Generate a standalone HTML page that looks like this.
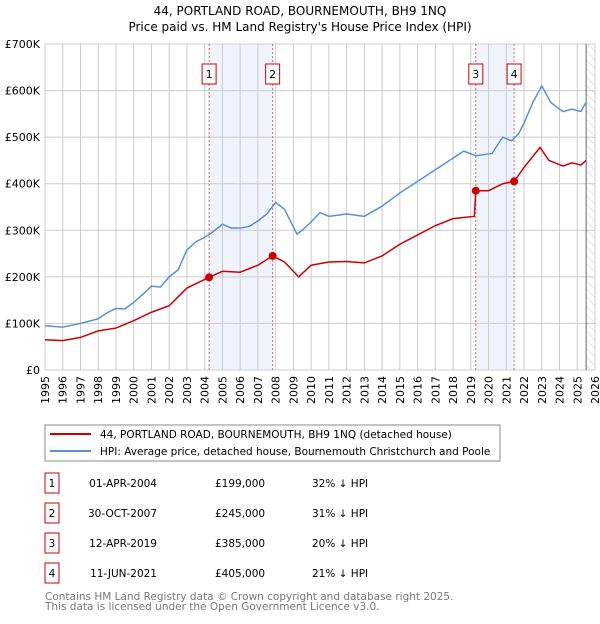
<!DOCTYPE html>
<html><head><meta charset="utf-8"><style>
body{margin:0;background:#fff;font-family:"DejaVu Sans","Liberation Sans",sans-serif}
svg text{font-family:"DejaVu Sans","Liberation Sans",sans-serif}
</style></head><body>
<svg id="c" width="600" height="620" xmlns="http://www.w3.org/2000/svg">
<defs><pattern id="h" width="6" height="6" patternUnits="userSpaceOnUse" patternTransform="rotate(-45)"><line x1="0" y1="0" x2="0" y2="6" stroke="#ccc" stroke-width="1"/></pattern></defs>
<text x="300" y="15" text-anchor="middle" font-size="12">44, PORTLAND ROAD, BOURNEMOUTH, BH9 1NQ</text>
<text x="300" y="31" text-anchor="middle" font-size="12">Price paid vs. HM Land Registry's House Price Index (HPI)</text>
<g id="plot"></g>
<rect x="45" y="425" width="455" height="36" fill="none" stroke="#888"/>
<line x1="50" y1="434" x2="91" y2="434" stroke="#cc0000" stroke-width="2"/>
<text x="100" y="438" font-size="10.5">44, PORTLAND ROAD, BOURNEMOUTH, BH9 1NQ (detached house)</text>
<line x1="50" y1="451" x2="91" y2="451" stroke="#5b8fd4" stroke-width="2"/>
<text x="100" y="455" font-size="10.5">HPI: Average price, detached house, Bournemouth Christchurch and Poole</text>
<g id="tbl" font-size="10.5"></g>
<text x="45" y="600" font-size="10.5" fill="#777">Contains HM Land Registry data © Crown copyright and database right 2025.</text>
<text x="45" y="610" font-size="10.5" fill="#777">This data is licensed under the Open Government Licence v3.0.</text>
</svg>
<script>
const hpiYears=[1995,1996,1997,1998,1998.5,1999,1999.5,2000,2000.5,2001,2001.5,2002,2002.5,2003,2003.5,2004,2004.3,2005,2005.5,2006,2006.5,2007,2007.5,2008,2008.5,2009.2,2009.5,2010,2010.5,2011,2012,2013,2014,2015,2016,2017,2018,2018.6,2019.3,2020.2,2020.8,2021.3,2021.7,2022,2022.5,2023,2023.5,2024,2024.2,2024.7,2025.2,2025.5];
const hpiValues=[95,92,100,110,123,132,131,145,162,180,178,200,215,258,275,285,292,313,305,305,308,320,335,360,345,292,300,318,338,330,335,330,352,380,405,430,455,470,460,465,500,492,508,530,575,610,575,560,555,560,555,575];
const ppYears=[1995,1996,1997,1998,1999,2000,2001,2002,2003,2004.25,2005,2006,2007,2007.83,2008.5,2009.3,2010,2011,2012,2013,2014,2015,2016,2017,2018,2019.2,2019.28,2020,2020.8,2021.44,2022,2022.9,2023.4,2024.2,2024.7,2025.2,2025.5];
const ppValues=[65,63,70,84,90,106,124,138,176,199,212,210,225,245,232,200,225,232,233,230,245,270,290,310,325,330,385,385,400,405,435,478,450,438,445,440,450];
const saleYears=[2004.25,2007.83,2019.28,2021.44];
const saleValues=[199,245,385,405];
const saleLabels=['1','2','3','4'];
const saleDates=['01-APR-2004','30-OCT-2007','12-APR-2019','11-JUN-2021'];
const salePrices=['£199,000','£245,000','£385,000','£405,000'];
const salePct=['32% ↓ HPI','31% ↓ HPI','20% ↓ HPI','21% ↓ HPI'];
const yTicks=[0,100,200,300,400,500,600,700];
const yTickLabels=['£0','£100K','£200K','£300K','£400K','£500K','£600K','£700K'];
const xTicks=[1995,1996,1997,1998,1999,2000,2001,2002,2003,2004,2005,2006,2007,2008,2009,2010,2011,2012,2013,2014,2015,2016,2017,2018,2019,2020,2021,2022,2023,2024,2025,2026];
const NS='http://www.w3.org/2000/svg';
const X=v=>45+(v-1995)*(550/31), Y=v=>370-v*326/700;
const g=document.getElementById('plot');
function mk(t,a,p){const e=document.createElementNS(NS,t);for(const k in a)e.setAttribute(k,a[k]);(p||g).appendChild(e);return e;}
for(let i=0;i<2;i++){const r=mk('rect',{x:X(saleYears[i*2]),y:44,width:X(saleYears[i*2+1])-X(saleYears[i*2]),height:326,fill:'#eef3fc'});

}
const hr=mk('rect',{x:X(2025.5),y:44,width:595-X(2025.5),height:326,fill:'url(#h)'});


xTicks.forEach(t=>{const l=mk('line',{x1:X(t),x2:X(t),y1:44,y2:370,stroke:'#ccc'});


const tx=mk('text',{x:0,y:0,'font-size':11,transform:`translate(${X(t)+4},376) rotate(-90)`,'text-anchor':'end'});tx.textContent=t;

});
yTicks.forEach((t,i)=>{const l=mk('line',{x1:45,x2:595,y1:Y(t),y2:Y(t),stroke:'#ccc'});


const tx=mk('text',{x:40,y:Y(t)+4,'font-size':11,'text-anchor':'end'});tx.textContent=yTickLabels[i];

});
const vl=mk('line',{x1:X(2025.5),x2:X(2025.5),y1:44,y2:370,stroke:'#666'});


saleYears.forEach((s,i)=>{const l=mk('line',{x1:X(s),x2:X(s),y1:44,y2:370,stroke:'#e06060','stroke-dasharray':'2,2'});


const r=mk('rect',{x:X(s)-7,y:64,width:14,height:20,fill:'#fff',stroke:'#cc0000'});


const t=mk('text',{x:X(s),y:78,'font-size':11,'text-anchor':'middle'});t.textContent=saleLabels[i];

});
const hp=mk('polyline',{points:hpiYears.map((y,i)=>X(y)+','+Y(hpiValues[i])).join(' '),fill:'none',stroke:'#5b8fd4','stroke-width':1.5});


const pp=mk('polyline',{points:ppYears.map((y,i)=>X(y)+','+Y(ppValues[i])).join(' '),fill:'none',stroke:'#cc0000','stroke-width':1.5});


saleYears.forEach((s,i)=>{const c=mk('circle',{cx:X(s),cy:Y(saleValues[i]),r:4,fill:'#cc0000'});

});
const tb=document.getElementById('tbl');
saleLabels.forEach((lb,i)=>{const cy=483+i*30;
const r=mk('rect',{x:45,y:cy-10,width:14,height:20,fill:'#fff',stroke:'#cc0000'},tb);


const cells=[[52,lb,'middle','table-marker-label'],[157,saleDates[i],'end','table-date'],[215,salePrices[i],'start','table-price'],[312,salePct[i],'start','table-hpi-diff']];
cells.forEach(c=>{const t=mk('text',{x:c[0],y:cy+4,'text-anchor':c[2]},tb);t.textContent=c[1];

});});
</script>
</body></html>
